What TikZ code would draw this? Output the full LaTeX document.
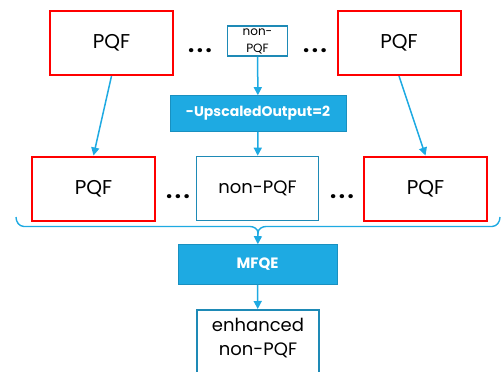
\documentclass[tikz,border=0pt]{standalone}
\usepackage{fontspec}
\setmainfont{Poppins}
\usepackage{tikz}
\usetikzlibrary{positioning, arrows.meta}
\definecolor{pqfred}{RGB}{255,0,0}
\definecolor{boxblue}{RGB}{30,138,182}
\definecolor{flowcyan}{RGB}{30,170,226}
\begin{document}
\begin{tikzpicture}[x=1pt, y=-1pt,
  pqf/.style={draw=pqfred, line width=2pt, minimum width=123pt, minimum height=64pt, font=\fontsize{20}{24}\selectfont},
  npqf/.style={draw=boxblue, line width=1.6pt, minimum width=122pt, minimum height=64pt, font=\fontsize{18}{24}\selectfont, align=center},
  opbox/.style={fill=flowcyan, draw=flowcyan!85!black, line width=0.6pt, text=white, font=\bfseries},
  dots/.style={font=\fontsize{22}{24}\selectfont\bfseries},
  flow/.style={draw=flowcyan, line width=1.5pt, -{Triangle[width=8pt,length=8pt]}}]
  \useasboundingbox (0,0) rectangle (501,372);
  \clip (0,0) rectangle (501,372);

  \node[pqf]  (pqf tl)  at (111.5,43)  {PQF};
  \node[pqf]  (pqf tr)  at (399,43)    {PQF};
  \node[draw=boxblue, line width=1.5pt, minimum width=60pt, minimum height=30pt, inner sep=0pt,
        align=center, font=\fontsize{12}{17}\selectfont] (npqf top) at (257.5,41) {non-\\PQF};
  \node[dots] (dots tl) at (200,51)  {.\hspace{2.5pt}.\hspace{2.5pt}.};
  \node[dots] (dots tr) at (315,51)  {.\hspace{2.5pt}.\hspace{2.5pt}.};

  \node[opbox, minimum width=176pt, minimum height=36pt, font=\fontsize{14}{18}\selectfont\bfseries] (upscale) at (258,113.5) {-UpscaledOutput=2};

  \node[pqf]  (pqf ml)  at (93.5,188.5)  {PQF};
  \node[npqf] (npqf mid) at (257.5,188.5) {non-PQF};
  \node[pqf]  (pqf mr)  at (425.5,188.5) {PQF};
  \node[dots] (dots ml) at (178,197) {.\hspace{2.5pt}.\hspace{2.5pt}.};
  \node[dots] (dots mr) at (342,197) {.\hspace{2.5pt}.\hspace{2.5pt}.};

  \node[opbox, minimum width=159pt, minimum height=40pt, font=\fontsize{15}{18}\selectfont\bfseries] (mfqe) at (257.5,264.5) {MFQE};

  \node[npqf, anchor=north, minimum height=0pt, inner ysep=8pt, text depth=40pt] (enhanced) at (258,309) {enhanced\\non-PQF};

  % brace over the middle row
  \coordinate (brace l) at (16,217);
  \coordinate (brace r) at (500,217);
  \coordinate (brace tip) at (258,233);
  \draw[flowcyan, line width=1.4pt] (brace l) to[out=-90,in=180] (24,226.5) -- (250,226.5)
    to[out=0,in=90] (brace tip) to[out=90,in=180] (266,226.5) -- (492,226.5) to[out=0,in=-90] (brace r);

  \draw[flow] (npqf top) -- (upscale);
  \draw[flow] (pqf tl.south) -- (pqf ml.north);
  \draw[flow] (pqf tr.south) -- (pqf mr.north);
  \draw[flow] (upscale) -- (npqf mid);
  \draw[flow] (brace tip) -- (mfqe);
  \draw[flow] (mfqe) -- (enhanced);
\end{tikzpicture}
\end{document}
